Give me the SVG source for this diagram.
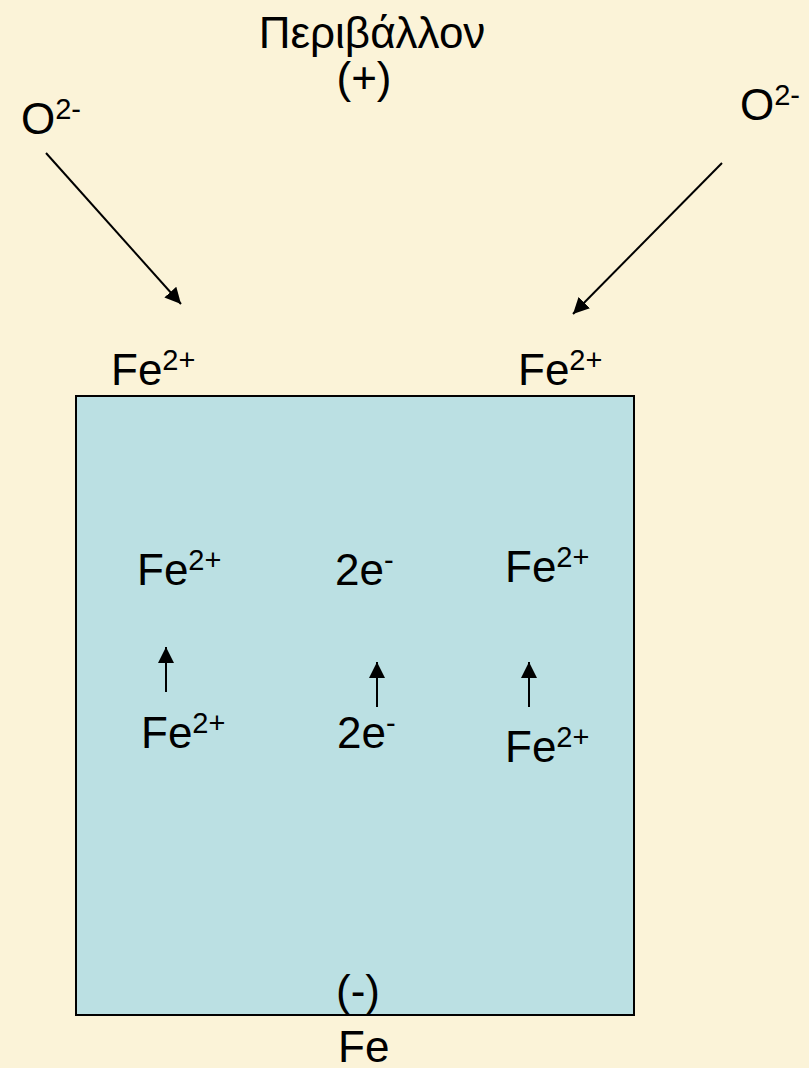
<svg xmlns="http://www.w3.org/2000/svg" width="809" height="1068" viewBox="0 0 809 1068">
<defs>
<style>
.t{font-family:"Liberation Sans",Arial,sans-serif;font-size:44px;fill:#000}
.s{font-size:29px}
.c{stroke:#000;stroke-width:2;fill:none}
</style>
<marker id="ah" viewBox="0 0 10 10" refX="10" refY="5" markerWidth="8" markerHeight="8" markerUnits="strokeWidth" orient="auto">
<path d="M0,0 L10,5 L0,10 z" fill="#000"/>
</marker>
</defs>
<rect width="809" height="1068" fill="#FBF3D8"/>
<g id="metal">
<rect x="76" y="396" width="558" height="619" fill="#BBE0E3" stroke="#000" stroke-width="2"/>
</g>
<g id="env">
<text class="t" x="372" y="48" text-anchor="middle">Περιβάλλον</text>
<text class="t" x="364" y="93" text-anchor="middle">(+)</text>
</g>
<g id="o-left"><text class="t" x="21" y="134">O<tspan class="s" dy="-15">2-</tspan></text></g>
<g id="o-right"><text class="t" x="740" y="120">O<tspan class="s" dy="-15">2-</tspan></text></g>
<g id="fe-top-left"><text class="t" x="111" y="385">Fe<tspan class="s" dy="-15">2+</tspan></text></g>
<g id="fe-top-right"><text class="t" x="518" y="385">Fe<tspan class="s" dy="-15">2+</tspan></text></g>
<g id="fe-in-1"><text class="t" x="137" y="585">Fe<tspan class="s" dy="-15">2+</tspan></text></g>
<g id="e-in-1"><text class="t" x="335" y="585">2e<tspan class="s" dy="-15">-</tspan></text></g>
<g id="fe-in-2"><text class="t" x="505" y="582">Fe<tspan class="s" dy="-15">2+</tspan></text></g>
<g id="fe-in-3"><text class="t" x="141" y="748">Fe<tspan class="s" dy="-15">2+</tspan></text></g>
<g id="e-in-2"><text class="t" x="337" y="748">2e<tspan class="s" dy="-15">-</tspan></text></g>
<g id="fe-in-4"><text class="t" x="505" y="762">Fe<tspan class="s" dy="-15">2+</tspan></text></g>
<g id="minus"><text class="t" x="358" y="1006" text-anchor="middle">(-)</text></g>
<g id="fe"><text class="t" x="338" y="1062">Fe</text></g>
<g id="connectors">
<line class="c" x1="46" y1="153" x2="181" y2="304" marker-end="url(#ah)"/>
<line class="c" x1="722" y1="163" x2="573" y2="314" marker-end="url(#ah)"/>
<line class="c" x1="166" y1="692" x2="166" y2="647" marker-end="url(#ah)"/>
<line class="c" x1="377" y1="707" x2="377" y2="662" marker-end="url(#ah)"/>
<line class="c" x1="529" y1="707" x2="529" y2="662" marker-end="url(#ah)"/>
</g>
</svg>
